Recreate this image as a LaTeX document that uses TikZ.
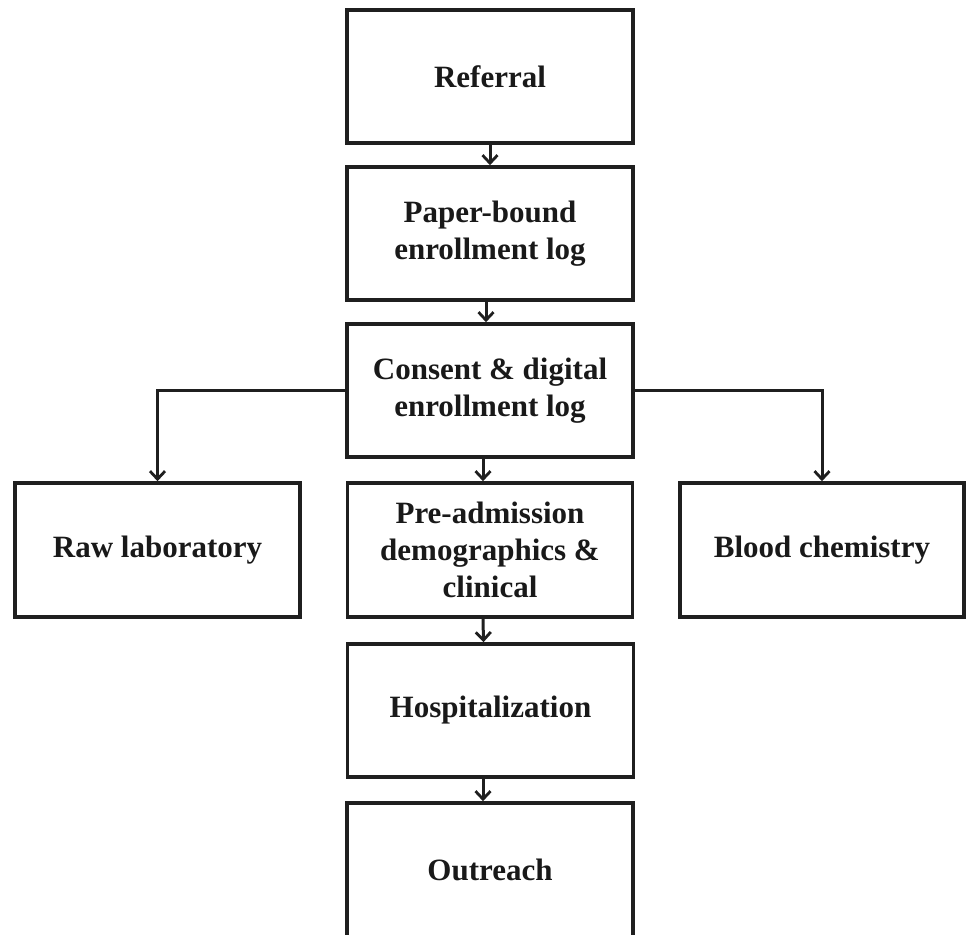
\documentclass[tikz,border=0pt]{standalone}
\usepackage{fontspec}
\setmainfont{Liberation Serif}
\usetikzlibrary{arrows.meta}
\begin{document}
\begin{tikzpicture}[x=1pt,y=-1pt,
  box/.style={draw=black!88, line width=3.6pt, inner sep=0pt, align=center,
    font=\bfseries\fontsize{31}{37}\selectfont, text=black!90},
  conn/.style={draw=black!88, line width=3pt,
    -{Straight Barb[length=8pt,width=15pt,line width=2.8pt]}}]
\useasboundingbox (0,0) rectangle (966,934);
\clip (0,0) rectangle (966,934);
\node[box, minimum width=286pt, minimum height=133pt] (ref) at (490,76.5) {Referral};
\node[box, minimum width=286pt, minimum height=133pt] (paper) at (490,233.5) {Paper-bound\\enrollment log};
\node[box, minimum width=286pt, minimum height=133pt] (cons) at (490,390.5) {Consent \& digital\\enrollment log};
\node[box, minimum width=285pt, minimum height=134pt] (raw) at (157.5,550) {Raw laboratory};
\node[box, minimum width=285pt, minimum height=134pt] (pre) at (490,550) {Pre-admission\\demographics \&\\clinical};
\node[box, minimum width=284pt, minimum height=134pt] (blood) at (822,550) {Blood chemistry};
\node[box, minimum width=286pt, minimum height=133pt] (hosp) at (490.5,710.5) {Hospitalization};
\node[box, minimum width=286pt, minimum height=140pt] (out) at (490,873) {\raisebox{6pt}{Outreach}};
\draw[conn] (ref.south) -- (paper.north);
\draw[conn] ([xshift=-4pt]paper.south) -- ([xshift=-4pt]cons.north);
\draw[conn] ([xshift=-7pt]cons.south) -- ([xshift=-7pt]pre.north);
\draw[conn] ([xshift=-7pt]pre.south) -- ([xshift=-7pt]hosp.north);
\draw[conn] ([xshift=-7.5pt]hosp.south) -- ([xshift=-7pt]out.north);
\draw[conn] (cons.west) -| (raw.north);
\draw[conn] (cons.east) -| (blood.north);
\end{tikzpicture}
\end{document}
